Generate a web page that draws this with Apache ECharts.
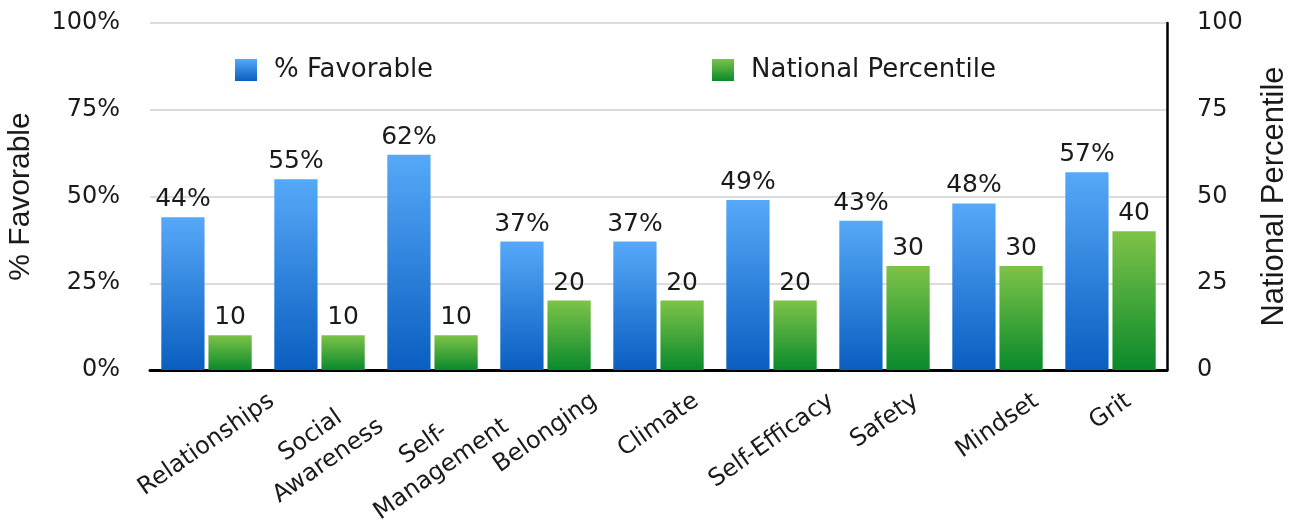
<!DOCTYPE html>
<html>
<head>
<meta charset="utf-8">
<title>% Favorable and National Percentile</title>
<script src="https://cdn.jsdelivr.net/npm/echarts@6/dist/echarts.min.js"></script>
<style>
  html, body { margin: 0; padding: 0; background: #ffffff; }
  #chart { width: 1296px; height: 526px; }
</style>
</head>
<body>
<div id="chart"></div>
<script>
// Survey topics and their scores
const categories = ['Relationships', 'Social\nAwareness', 'Self-\nManagement', 'Belonging', 'Climate', 'Self-Efficacy', 'Safety', 'Mindset', 'Grit'];
const favorable = [44, 55, 62, 37, 37, 49, 43, 48, 57];
const percentile = [10, 10, 10, 20, 20, 20, 30, 30, 40];
const leftTicks = [0, 25, 50, 75, 100];   // shown as 0% .. 100%
const rightTicks = [0, 25, 50, 75, 100];

const W = 1296, H = 526;
const GRID = { left: 150, right: 129, top: 23, bottom: 156 };
const FONT = '"DejaVu Sans", "Noto Sans", sans-serif';
const TITLE_FONT = '"Liberation Sans", Arial, sans-serif';
const INK = '#1a1a1a';

// Category labels are tilted and centred under their group, with the
// top of every tilted text block on one line below the axis.
const ROT = 35, LABEL_SIZE = 24, LINE_H = 31, LABEL_TOP = 386;
const rad = ROT * Math.PI / 180;
const labelFont = LABEL_SIZE + 'px ' + FONT;
const measureCtx = document.createElement('canvas').getContext('2d');
measureCtx.font = labelFont;
function tiltedHalfHeight(name) {
  const lines = name.split('\n');
  const w = Math.max.apply(null, lines.map(function (l) { return measureCtx.measureText(l).width; }));
  const h = lines.length * LINE_H;
  return (w * Math.sin(rad) + h * Math.cos(rad)) / 2;
}

function grad(top, bottom) {
  return new echarts.graphic.LinearGradient(0, 0, 0, 1, [
    { offset: 0, color: top },
    { offset: 1, color: bottom }
  ]);
}
const blueFill = grad('#56a9f8', '#0a5ec0');
const greenFill = grad('#7dc348', '#0a8a2c');

const chart = echarts.init(document.getElementById('chart'), null, { renderer: 'canvas', width: W, height: H });

const legendBase = {
  top: 57,
  padding: 0,
  itemWidth: 22,
  itemHeight: 22,
  icon: 'rect',
  textStyle: { fontFamily: FONT, fontSize: 26, color: INK, padding: [0, 0, 0, 12] }
};

chart.setOption({
  backgroundColor: '#ffffff',
  animation: false,
  textStyle: { fontFamily: FONT },
  grid: Object.assign({ containLabel: false, outerBoundsMode: 'none' }, GRID),
  legend: [
    Object.assign({ left: 235, data: ['% Favorable'] }, legendBase),
    Object.assign({ left: 712, data: ['National Percentile'] }, legendBase)
  ],
  xAxis: {
    type: 'category',
    data: categories,
    axisLine: { show: true, lineStyle: { color: '#000000', width: 3 } },
    axisTick: { show: false },
    axisLabel: { show: false }
  },
  yAxis: [
    {
      type: 'value',
      min: leftTicks[0],
      max: leftTicks[leftTicks.length - 1],
      interval: leftTicks[1] - leftTicks[0],
      name: '% Favorable',
      nameLocation: 'middle',
      nameRotate: 90,
      nameGap: 114,
      nameTextStyle: { fontFamily: TITLE_FONT, fontSize: 30, color: INK },
      axisLine: { show: false },
      axisTick: { show: false },
      splitLine: { show: true, lineStyle: { color: '#d0d0d0', width: 1.5 } },
      axisLabel: { margin: 30, fontFamily: FONT, fontSize: 24, color: INK, formatter: '{value}%' }
    },
    {
      type: 'value',
      position: 'right',
      min: rightTicks[0],
      max: rightTicks[rightTicks.length - 1],
      interval: rightTicks[1] - rightTicks[0],
      name: 'National Percentile',
      nameLocation: 'middle',
      nameRotate: 90,
      nameGap: 92,
      nameTextStyle: { fontFamily: TITLE_FONT, fontSize: 31, color: INK },
      axisLine: { show: true, lineStyle: { color: '#000000', width: 2.5 } },
      axisTick: { show: false },
      splitLine: { show: false },
      axisLabel: { margin: 30, fontFamily: FONT, fontSize: 24, color: INK }
    }
  ],
  series: [
    {
      name: '% Favorable',
      type: 'bar',
      yAxisIndex: 0,
      data: favorable,
      barGap: '9%',
      barCategoryGap: '20%',
      itemStyle: { color: blueFill },
      label: { show: true, position: 'top', distance: 5, fontFamily: FONT, fontSize: 25, color: INK, formatter: '{c}%' }
    },
    {
      name: 'National Percentile',
      type: 'bar',
      yAxisIndex: 1,
      data: percentile,
      barGap: '9%',
      barCategoryGap: '20%',
      itemStyle: { color: greenFill },
      label: { show: true, position: 'top', distance: 5, fontFamily: FONT, fontSize: 25, color: INK }
    },
    {
      // tilted category names, placed at each category's centre on the x axis
      name: 'category labels',
      type: 'custom',
      silent: true,
      clip: false,
      data: categories.map(function (c, i) { return [i, 0]; }),
      encode: { x: 0, y: 1 },
      renderItem: function (params, api) {
        const name = categories[api.value(0)];
        const p = api.coord([api.value(0), 0]);
        return {
          type: 'text',
          x: p[0],
          y: LABEL_TOP + tiltedHalfHeight(name),
          rotation: rad,
          style: {
            text: name,
            x: 0,
            y: 0,
            align: 'center',
            verticalAlign: 'middle',
            font: labelFont,
            lineHeight: LINE_H,
            fill: INK
          }
        };
      }
    }
  ]
});
</script>
</body>
</html>
